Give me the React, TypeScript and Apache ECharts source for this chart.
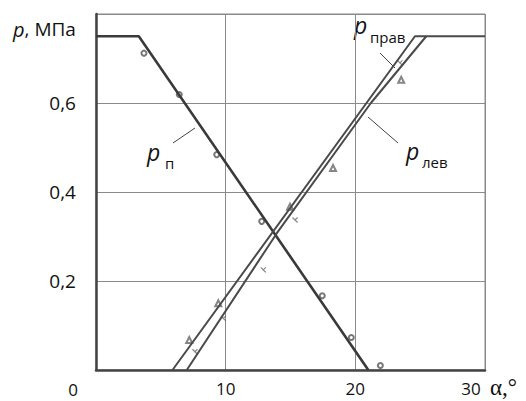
import React, { useEffect, useRef } from 'react';
import * as echarts from 'echarts';

// Axis ticks
const alphaTicks = [0, 10, 20, 30];
const pTicks = [0.2, 0.4, 0.6];

// Curve p_п
const pPAlpha = [0, 3.3, 21];
const pPValues = [0.75, 0.75, 0];

// Curve p_прав
const pPravAlpha = [5.9, 24.6, 30];
const pPravValues = [0, 0.75, 0.75];

// Curve p_лев
const pLevAlpha = [7.0, 13.96, 21.2, 25.47];
const pLevValues = [0, 0.308, 0.6, 0.75];

// Measured points (circles) for p_п
const circleAlpha = [3.7, 6.42, 9.31, 12.78, 17.45, 19.69, 21.93];
const circleValues = [0.712, 0.619, 0.484, 0.334, 0.167, 0.073, 0.01];

// Measured points (triangles)
const triangleAlpha = [7.19, 9.43, 14.96, 18.28, 23.54];
const triangleValues = [0.0675, 0.15, 0.367, 0.454, 0.652];

// Measured points (crosses)
const crossAlpha = [7.63, 9.82, 12.9, 15.35, 23.44];
const crossValues = [0.041, 0.116, 0.225, 0.337, 0.69];

const zip = (xs: number[], ys: number[]) => xs.map((x, i) => [x, ys[i]]);

const INK = '#3a3a3a';
const GRID = '#8a8a8a';
const SANS = '"Open Sans", "Noto Sans", sans-serif';

export default function App() {
  const ref = useRef<HTMLDivElement>(null);

  useEffect(() => {
    const chart = echarts.init(ref.current!, undefined, { renderer: 'svg' });

    const subLabel = (
      px: number,
      py: number,
      sub: string,
      sx: number,
      sy: number
    ) => [
      {
        type: 'text',
        x: px,
        y: py,
        style: {
          text: 'p',
          font: `italic 23px ${SANS}`,
          fill: '#111',
          verticalAlign: 'middle',
          align: 'left',
        },
      },
      {
        type: 'text',
        x: sx,
        y: sy,
        style: {
          text: sub,
          font: `15px ${SANS}`,
          fill: '#111',
          verticalAlign: 'middle',
          align: 'left',
        },
      },
    ];

    const leader = (x1: number, y1: number, x2: number, y2: number) => ({
      type: 'line',
      shape: { x1, y1, x2, y2 },
      style: { stroke: '#444', lineWidth: 1 },
    });

    chart.setOption({
      animation: false,
      backgroundColor: '#fff',
      grid: {
        left: 96,
        right: 41,
        top: 14,
        bottom: 31,
        show: true,
        borderColor: GRID,
        borderWidth: 1,
      },
      xAxis: {
        type: 'value',
        min: alphaTicks[0],
        max: alphaTicks[alphaTicks.length - 1],
        interval: 10,
        axisLine: { show: true, onZero: false, lineStyle: { color: '#444', width: 2.5 } },
        axisTick: { show: false },
        splitLine: { show: true, lineStyle: { color: GRID, width: 1 } },
        axisLabel: {
          margin: 10,
          color: '#111',
          fontFamily: SANS,
          fontSize: 17,
          lineHeight: 17,
          formatter: (v: number) =>
            v === 0 ? '' : v === 30 ? '{s|30}' : String(v),
          rich: {
            s: {
              fontFamily: SANS,
              fontSize: 17,
              lineHeight: 17,
              color: '#111',
              padding: [0, 28, 0, 0],
            },
          },
        },
      },
      yAxis: {
        type: 'value',
        min: 0,
        max: 0.8,
        interval: 0.2,
        axisLine: { show: true, onZero: false, lineStyle: { color: '#444', width: 2.5 } },
        axisTick: { show: false },
        splitLine: { show: true, lineStyle: { color: GRID, width: 1 } },
        axisLabel: {
          margin: 20,
          color: '#111',
          fontFamily: SANS,
          fontSize: 19,
          formatter: (v: number) =>
            pTicks.some((t) => Math.abs(t - v) < 1e-6) ? v.toFixed(1).replace('.', ',') : '',
        },
      },
      series: [
        {
          name: 'p_п',
          type: 'line',
          data: zip(pPAlpha, pPValues),
          symbol: 'none',
          lineStyle: { color: INK, width: 2.6 },
        },
        {
          name: 'p_прав',
          type: 'line',
          data: zip(pPravAlpha, pPravValues),
          symbol: 'none',
          lineStyle: { color: '#4a4a4a', width: 2 },
        },
        {
          name: 'p_лев',
          type: 'line',
          data: zip(pLevAlpha, pLevValues),
          symbol: 'none',
          lineStyle: { color: '#4a4a4a', width: 2 },
        },
        {
          type: 'scatter',
          data: zip(circleAlpha, circleValues),
          symbol: 'emptyCircle',
          symbolSize: 5,
          itemStyle: { color: '#555', borderWidth: 1.2 },
        },
        {
          type: 'scatter',
          data: zip(triangleAlpha, triangleValues),
          symbol: 'emptyTriangle',
          symbolSize: 6,
          itemStyle: { color: '#666', borderWidth: 1.2 },
        },
        {
          type: 'scatter',
          data: zip(crossAlpha, crossValues),
          symbol: 'path://M0 0L10 10M10 0L4 6',
          symbolSize: 5,
          itemStyle: { color: 'none', borderColor: '#666', borderWidth: 1.2 },
        },
      ],
      graphic: [
        {
          type: 'text',
          x: 13,
          y: 29,
          style: {
            text: '{i|p}, МПа',
            verticalAlign: 'middle',
            align: 'left',
            rich: {
              i: { font: `italic 20px ${SANS}`, fill: '#111' },
            },
            font: `19px ${SANS}`,
            fill: '#111',
          },
        },
        {
          type: 'text',
          x: 73,
          y: 389,
          style: {
            text: '0',
            font: `17px ${SANS}`,
            lineHeight: 17,
            fill: '#111',
            align: 'center',
            verticalAlign: 'middle',
          },
        },
        {
          type: 'text',
          x: 490,
          y: 387,
          style: {
            text: 'α,°',
            font: `23px "Liberation Serif", serif`,
            lineHeight: 20,
            fill: '#111',
            align: 'left',
            verticalAlign: 'middle',
          },
        },
        ...subLabel(147, 152, 'п', 165, 163),
        leader(173, 143, 195, 128),
        ...subLabel(354, 25, 'прав', 370, 37),
        leader(380, 53, 395, 68),
        ...subLabel(406, 151, 'лев', 422, 162),
        leader(398, 143, 368, 117),
      ],
    });

    return () => chart.dispose();
  }, []);

  return (
    <div
      ref={ref}
      style={{ position: 'absolute', left: 0, top: 0, width: 526, height: 401 }}
    />
  );
}
